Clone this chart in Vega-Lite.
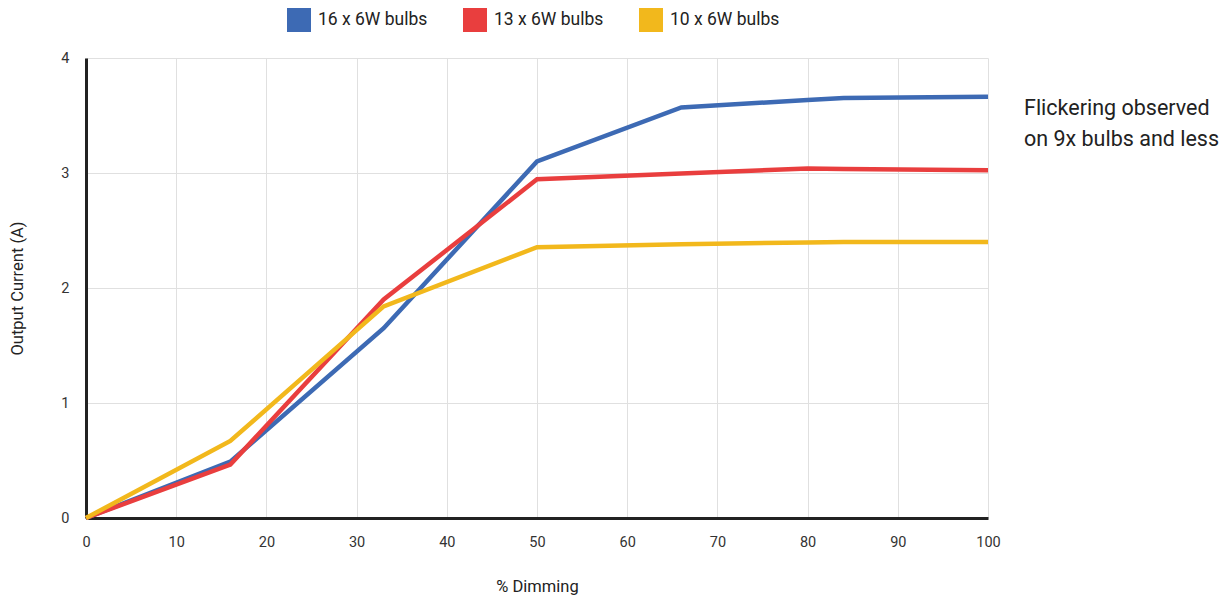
{
  "$schema": "https://vega.github.io/schema/vega-lite/v6.json",
  "autosize": "none",
  "width": 902,
  "height": 460,
  "padding": {"left": 86, "top": 58, "right": 239, "bottom": 89},
  "background": "white",
  "config": {
    "font": "Roboto",
    "view": {"stroke": null},
    "axis": {"labelFont": "Roboto", "titleFont": "Roboto", "labelColor": "#333", "titleColor": "#222", "labelFontSize": 14.5, "titleFontSize": 16.5, "titleFontWeight": "normal", "gridColor": "#e0e0e0", "gridWidth": 1, "ticks": false, "domainColor": "#222", "domainWidth": 3, "labelFlush": false, "labelOverlap": false}
  },
  "layer": [
    {
      "data": {
        "values": [
          {"dim": 0, "cur": 0, "series": "16 x 6W bulbs"},
          {"dim": 16, "cur": 0.49, "series": "16 x 6W bulbs"},
          {"dim": 33, "cur": 1.65, "series": "16 x 6W bulbs"},
          {"dim": 50, "cur": 3.1, "series": "16 x 6W bulbs"},
          {"dim": 66, "cur": 3.57, "series": "16 x 6W bulbs"},
          {"dim": 80, "cur": 3.635, "series": "16 x 6W bulbs"},
          {"dim": 84, "cur": 3.653, "series": "16 x 6W bulbs"},
          {"dim": 100, "cur": 3.662, "series": "16 x 6W bulbs"},
          {"dim": 0, "cur": 0, "series": "13 x 6W bulbs"},
          {"dim": 16, "cur": 0.465, "series": "13 x 6W bulbs"},
          {"dim": 33, "cur": 1.9, "series": "13 x 6W bulbs"},
          {"dim": 50, "cur": 2.945, "series": "13 x 6W bulbs"},
          {"dim": 66, "cur": 2.995, "series": "13 x 6W bulbs"},
          {"dim": 80, "cur": 3.04, "series": "13 x 6W bulbs"},
          {"dim": 84, "cur": 3.035, "series": "13 x 6W bulbs"},
          {"dim": 100, "cur": 3.024, "series": "13 x 6W bulbs"},
          {"dim": 0, "cur": 0, "series": "10 x 6W bulbs"},
          {"dim": 16, "cur": 0.67, "series": "10 x 6W bulbs"},
          {"dim": 33, "cur": 1.84, "series": "10 x 6W bulbs"},
          {"dim": 50, "cur": 2.355, "series": "10 x 6W bulbs"},
          {"dim": 66, "cur": 2.38, "series": "10 x 6W bulbs"},
          {"dim": 80, "cur": 2.396, "series": "10 x 6W bulbs"},
          {"dim": 84, "cur": 2.4, "series": "10 x 6W bulbs"},
          {"dim": 100, "cur": 2.4, "series": "10 x 6W bulbs"}
        ]
      },
      "mark": {"type": "line", "strokeWidth": 4.5, "strokeJoin": "miter", "clip": false},
      "encoding": {
        "x": {"field": "dim", "type": "quantitative", "scale": {"domain": [0, 100], "nice": false, "zero": true},
              "axis": {"title": "% Dimming", "values": [0,10,20,30,40,50,60,70,80,90,100], "format": "d", "labelPadding": 17, "titleY": 60, "titleBaseline": "top", "grid": true}},
        "y": {"field": "cur", "type": "quantitative", "scale": {"domain": [0, 4], "nice": false},
              "axis": {"title": "Output Current (A)", "values": [0,1,2,3,4], "format": "d", "labelPadding": 17, "titleX": -61, "titleY": 230, "grid": true}},
        "color": {"field": "series", "type": "nominal", "sort": ["16 x 6W bulbs", "13 x 6W bulbs", "10 x 6W bulbs"],
                  "scale": {"domain": ["16 x 6W bulbs", "13 x 6W bulbs", "10 x 6W bulbs"], "range": ["#3d6ab4", "#e93e3e", "#f2b81c"]},
                  "legend": {"title": null, "orient": "none", "direction": "horizontal", "legendX": 201, "legendY": -50,
                             "symbolType": "square", "symbolSize": 144, "symbolStrokeWidth": 12, "symbolOpacity": 1,
                             "labelFontSize": 17.5, "labelFont": "Roboto", "labelColor": "#222", "labelOffset": 7, "columnPadding": 17}},
        "order": {"field": "dim", "type": "quantitative"}
      }
    },
    {
      "data": {"values": [{"dim": 100, "cur": 3.557, "note": "Flickering observed\non 9x bulbs and less"}]},
      "mark": {"type": "text", "align": "left", "baseline": "middle", "dx": 36, "fontSize": 21.5, "lineHeight": 31, "lineBreak": "\n", "color": "#222", "font": "Roboto", "clip": false},
      "encoding": {
        "x": {"field": "dim", "type": "quantitative"},
        "y": {"field": "cur", "type": "quantitative"},
        "text": {"field": "note"}
      }
    }
  ]
}
